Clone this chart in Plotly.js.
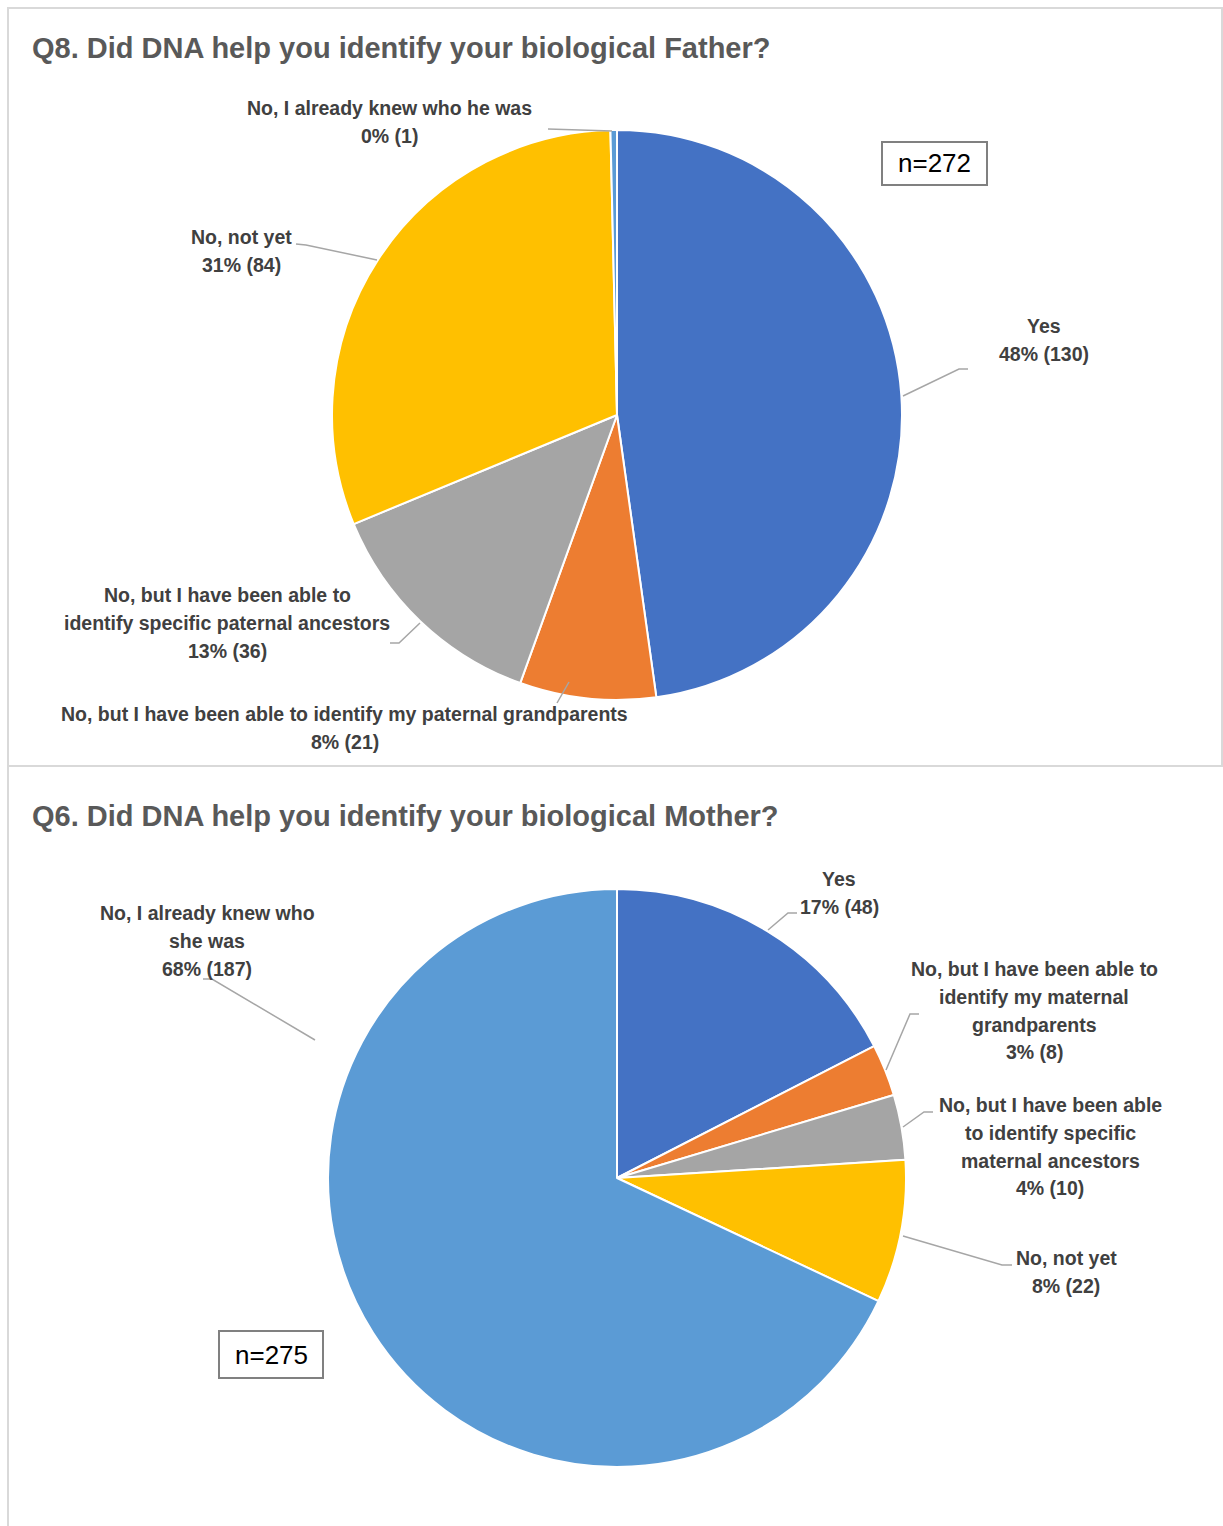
<!DOCTYPE html>
<html>
<head>
<meta charset="utf-8">
<script src="https://cdn.plot.ly/plotly-3.0.1.min.js"></script>
<style>html,body{margin:0;padding:0;background:#fff;}#chart{width:1223px;height:1526px;}</style>
</head>
<body>
<div id="chart"></div>
<script>
// ---------- DATA ----------
const fatherTitle = "Q8. Did DNA help you identify your biological Father?";
const fatherCategories = [
  "Yes",
  "No, but I have been able to identify my paternal grandparents",
  "No, but I have been able to<br>identify specific paternal ancestors",
  "No, not yet",
  "No, I already knew who he was"
];
const fatherValues = [130, 21, 36, 84, 1];
const fatherN = "n=272";

const motherTitle = "Q6. Did DNA help you identify your biological Mother?";
const motherCategories = [
  "Yes",
  "No, but I have been able to<br>identify my maternal<br>grandparents",
  "No, but I have been able<br>to identify specific<br>maternal ancestors",
  "No, not yet",
  "No, I already knew who<br>she was"
];
const motherValues = [48, 8, 10, 22, 187];
const motherN = "n=275";

// ---------- LAYOUT / STYLE ----------
const W = 1223, H = 1526;
const sliceColors = ["#4472C4", "#ED7D31", "#A5A5A5", "#FFC000", "#5B9BD5"];
const FONT = "Liberation Sans, Arial, sans-serif";
const LINE_H = 27.8;

const charts = [
  {
    title: fatherTitle, titlePos: [30, 48],
    cats: fatherCategories, vals: fatherValues, n: fatherN,
    cx: 617, cy: 415, r: 285,
    nBox: [882, 142, 987, 185],
    labelPos: [[1044, 326], [345, 714], [227, 595], [241, 237], [390, 108]],
    leaders: [
      [[968, 369], [959, 369], [903, 396]],
      [[557, 703], [569, 682]],
      [[390, 643], [399, 643], [420, 623]],
      [[296, 244], [306, 245], [377, 260]],
      [[548, 129], [612, 131]]
    ]
  },
  {
    title: motherTitle, titlePos: [30, 816],
    cats: motherCategories, vals: motherValues, n: motherN,
    cx: 617, cy: 1178, r: 289,
    nBox: [219, 1331, 323, 1378],
    labelPos: [[839, 879], [1034, 969], [1050, 1105], [1066, 1258], [207, 913]],
    leaders: [
      [[797, 913], [788, 913], [768, 930]],
      [[919, 1014], [910, 1014], [886, 1070]],
      [[933, 1112], [924, 1112], [903, 1127]],
      [[1012, 1265], [1002, 1265], [903, 1236]],
      [[203, 979], [212, 979], [315, 1040]]
    ]
  }
];

const px = x => x / W;
const py = y => 1 - y / H;

const traces = [];
const annotations = [];
const shapes = [];

// panel borders
shapes.push({type: "rect", xref: "paper", yref: "paper", x0: px(8), x1: px(1222), y0: py(8), y1: py(766),
  line: {color: "#D9D9D9", width: 2}, fillcolor: "rgba(0,0,0,0)"});
shapes.push({type: "line", xref: "paper", yref: "paper", x0: px(8), x1: px(8), y0: py(766), y1: py(1526),
  line: {color: "#D9D9D9", width: 2}});

charts.forEach(c => {
  const total = c.vals.reduce((a, b) => a + b, 0);
  traces.push({
    type: "pie",
    labels: c.cats.map(s => s.replace(/<br>/g, " ")),
    values: c.vals,
    sort: false,
    direction: "clockwise",
    rotation: 0,
    marker: {colors: sliceColors, line: {color: "#FFFFFF", width: 2}},
    textinfo: "none",
    hoverinfo: "none",
    showlegend: false,
    domain: {
      x: [px(c.cx - c.r), px(c.cx + c.r)],
      y: [py(c.cy + c.r), py(c.cy - c.r)]
    }
  });

  annotations.push({
    xref: "paper", yref: "paper", x: px(c.titlePos[0]), y: py(c.titlePos[1]),
    xanchor: "left", yanchor: "middle", showarrow: false,
    text: "<b>" + c.title + "</b>",
    font: {family: FONT, size: 29, color: "#595959"}
  });

  c.cats.forEach((cat, i) => {
    const pct = Math.round(c.vals[i] / total * 100) + "% (" + c.vals[i] + ")";
    const lines = cat.split("<br>").concat([pct]);
    lines.forEach((ln, k) => {
      annotations.push({
        xref: "paper", yref: "paper",
        x: px(c.labelPos[i][0]), y: py(c.labelPos[i][1] + k * LINE_H),
        xanchor: "center", yanchor: "middle", showarrow: false,
        text: "<b>" + ln + "</b>",
        font: {family: FONT, size: 19.5, color: "#404040"}
      });
    });
    const pts = c.leaders[i];
    let path = "";
    pts.forEach((p, k) => { path += (k === 0 ? "M " : " L ") + px(p[0]) + "," + py(p[1]); });
    shapes.push({type: "path", xref: "paper", yref: "paper", path: path,
      line: {color: "#A6A6A6", width: 1.5}});
  });

  const b = c.nBox;
  shapes.push({type: "rect", xref: "paper", yref: "paper",
    x0: px(b[0]), x1: px(b[2]), y0: py(b[3]), y1: py(b[1]),
    line: {color: "#808080", width: 2}, fillcolor: "#FFFFFF"});
  annotations.push({
    xref: "paper", yref: "paper", x: px((b[0] + b[2]) / 2), y: py((b[1] + b[3]) / 2),
    xanchor: "center", yanchor: "middle", showarrow: false,
    text: c.n, font: {family: FONT, size: 26, color: "#000000"}
  });
});

const layout = {
  width: W, height: H,
  margin: {l: 0, r: 0, t: 0, b: 0},
  paper_bgcolor: "#FFFFFF",
  plot_bgcolor: "#FFFFFF",
  showlegend: false,
  annotations: annotations,
  shapes: shapes
};

Plotly.newPlot("chart", traces, layout, {displayModeBar: false, staticPlot: true});
</script>
</body>
</html>
